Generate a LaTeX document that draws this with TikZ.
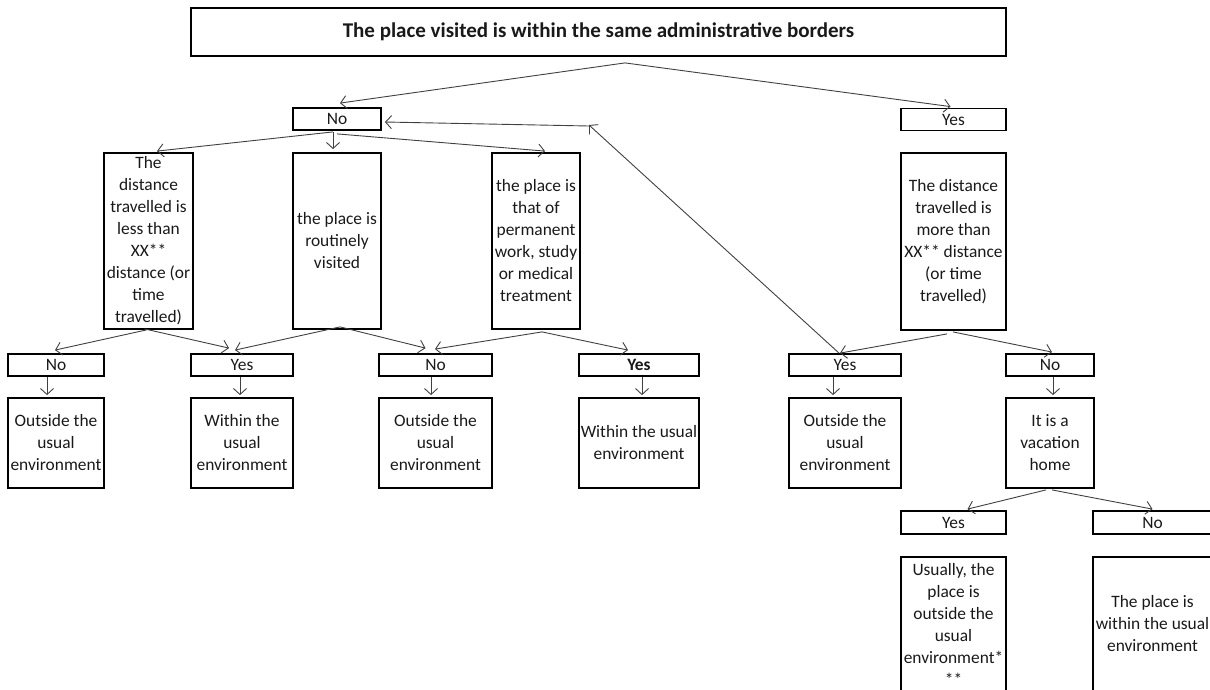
\documentclass[tikz,border=0pt]{standalone}
\usepackage{fontspec}
\setmainfont{Carlito}
\usetikzlibrary{arrows.meta,positioning}

\tikzset{
  box/.style={draw, line width=1.8pt, inner sep=0pt, align=center, text=black!90,
    font=\fontsize{17.4}{22}\selectfont},
  tag/.style={box, minimum height=22pt},
  tall/.style={box, minimum height=176pt},
  result/.style={box, minimum height=90pt},
  link/.style={-{Straight Barb[length=6pt,width=13pt]}, draw=black!75, line width=0.9pt},
}

\begin{document}
\begin{tikzpicture}[x=1pt,y=-1pt]
    \useasboundingbox (0,0) rectangle (1210,689);
    % root question
    \node[box, minimum width=815pt, minimum height=48pt, font=\fontsize{21}{24}\selectfont\bfseries] (place) at (598.5,32) {The place visited is within the same administrative borders};
    \node[tag, minimum width=88pt] (no) at (337,119) {No};
    \node[tag, minimum width=105pt] (yes) at (953.5,119.5) {Yes};

    % second level questions
    \node[tall, minimum width=89pt] (less) at (148.5,241) {The\\distance\\travelled is\\less than\\XX**\\distance (or\\time\\travelled)};
    \node[tall, minimum width=88pt] (routine) at (337,241) {the place is\\routinely\\visited};
    \node[tall, minimum width=88pt] (work) at (536,241) {the place is\\that of\\permanent\\work, study\\or medical\\treatment};
    \node[tall, minimum width=105pt, minimum height=177pt] (more) at (953.5,241.5) {The distance\\travelled is\\more than\\XX** distance\\(or time\\travelled)};

    % answers
    \node[tag, minimum width=96pt] (lessno) at (56,365) {No};
    \node[tag, minimum width=102pt] (lessyes) at (242,365) {Yes};
    \node[tag, minimum width=113pt] (routno) at (435.5,365) {No};
    \node[tag, minimum width=120pt, font=\fontsize{17.4}{22}\selectfont\bfseries] (workyes) at (639,365) {Yes};
    \node[tag, minimum width=112pt] (moreyes) at (845,365) {Yes};
    \node[tag, minimum width=88pt] (moreno) at (1050,365) {No};

    % outcomes
    \node[result, minimum width=96pt] (out1) at (56,443) {Outside the\\usual\\environment};
    \node[result, minimum width=102pt] (in1) at (242,443) {Within the\\usual\\environment};
    \node[result, minimum width=113pt] (out2) at (435.5,443) {Outside the\\usual\\environment};
    \node[result, minimum width=120pt] (in2) at (639,443) {Within the usual\\environment};
    \node[result, minimum width=112pt] (out3) at (845,443) {Outside the\\usual\\environment};
    \node[result, minimum width=88pt] (vacation) at (1050,443) {It is a\\vacation\\home};

    % vacation home branch
    \node[tag, minimum width=105pt, minimum height=23pt] (vacyes) at (953.5,522.5) {Yes};
    \node[tag, minimum width=119pt, minimum height=23pt] (vacno) at (1152.5,522.5) {No};
    \node[box, minimum width=105pt, minimum height=134pt] (usually) at (953.5,624) {Usually, the\\place is\\outside the\\usual\\environment*\\**};
    \node[box, minimum width=119pt, minimum height=134pt] (within) at (1152.5,624) {The place is\\within the usual\\environment};

    \coordinate (turn) at (589,125);

    % connectors
    \draw[link] ([xshift=26.5pt,yshift=-6pt]place.south) -- ([xshift=3pt,yshift=4pt]no.north);
    \draw[link] ([xshift=26.5pt,yshift=-6pt]place.south) -- ([xshift=-3pt,yshift=1pt]yes.north);
    \draw[link] ([xshift=-4pt,yshift=-1pt]no.south) -- ([xshift=8.5pt,yshift=1pt]less.north);
    \draw[link] ([xshift=-4pt,yshift=-1pt]no.south) -- ([xshift=-4pt,yshift=3pt]routine.north);
    \draw[link] ([yshift=-3pt]no.south) -- ([xshift=9pt,yshift=1pt]work.north);
    \draw[link] ([xshift=-2pt]less.south) -- ([xshift=-1pt,yshift=3pt]lessno.north);
    \draw[link] ([xshift=-4pt,yshift=1pt]less.south) -- ([xshift=-13pt,yshift=5pt]lessyes.north);
    \draw[link] ([xshift=3pt,yshift=3pt]routine.south) -- ([xshift=-7pt,yshift=3pt]lessyes.north);
    \draw[link] ([xshift=3pt,yshift=3pt]routine.south) -- ([xshift=-10pt,yshift=5pt]routno.north);
    \draw[link] ([xshift=6pt,yshift=-2pt]work.south) -- ([xshift=-0.5pt,yshift=4pt]routno.north);
    \draw[link] ([xshift=6pt,yshift=-2pt]work.south) -- ([xshift=-11pt,yshift=3pt]workyes.north);
    \draw[link] ([xshift=-6.5pt,yshift=-3pt]more.south) -- ([xshift=-5pt]moreyes.north);
    \draw[link] ([xshift=-0.5pt,yshift=-1pt]more.south) -- ([xshift=2pt,yshift=1pt]moreno.north);
    \draw[link] ([xshift=-6pt]moreyes.north) -- (turn);
    \draw[link] ([yshift=-1pt]turn) -- ([xshift=3pt,yshift=-3pt]no.east);
    \draw[link] ([xshift=-9pt]lessno.south) -- ([xshift=-9pt,yshift=2pt]out1.north);
    \draw[link] ([xshift=-2pt]lessyes.south) -- ([xshift=-2pt,yshift=2pt]in1.north);
    \draw[link] ([xshift=-4.5pt]routno.south) -- ([xshift=-4.5pt,yshift=2pt]out2.north);
    \draw[link] ([xshift=3pt]workyes.south) -- ([xshift=3pt,yshift=2pt]in2.north);
    \draw[link] ([xshift=-12pt]moreyes.south) -- ([xshift=-12pt,yshift=2pt]out3.north);
    \draw[link] ([xshift=3pt]moreno.south) -- ([xshift=3pt,yshift=2pt]vacation.north);
    \draw[link] ([xshift=-4pt,yshift=-1pt]vacation.south) -- ([xshift=14pt,yshift=1pt]vacyes.north);
    \draw[link] ([xshift=2pt,yshift=-1pt]vacation.south) -- ([yshift=1pt]vacno.north);
\end{tikzpicture}
\end{document}
